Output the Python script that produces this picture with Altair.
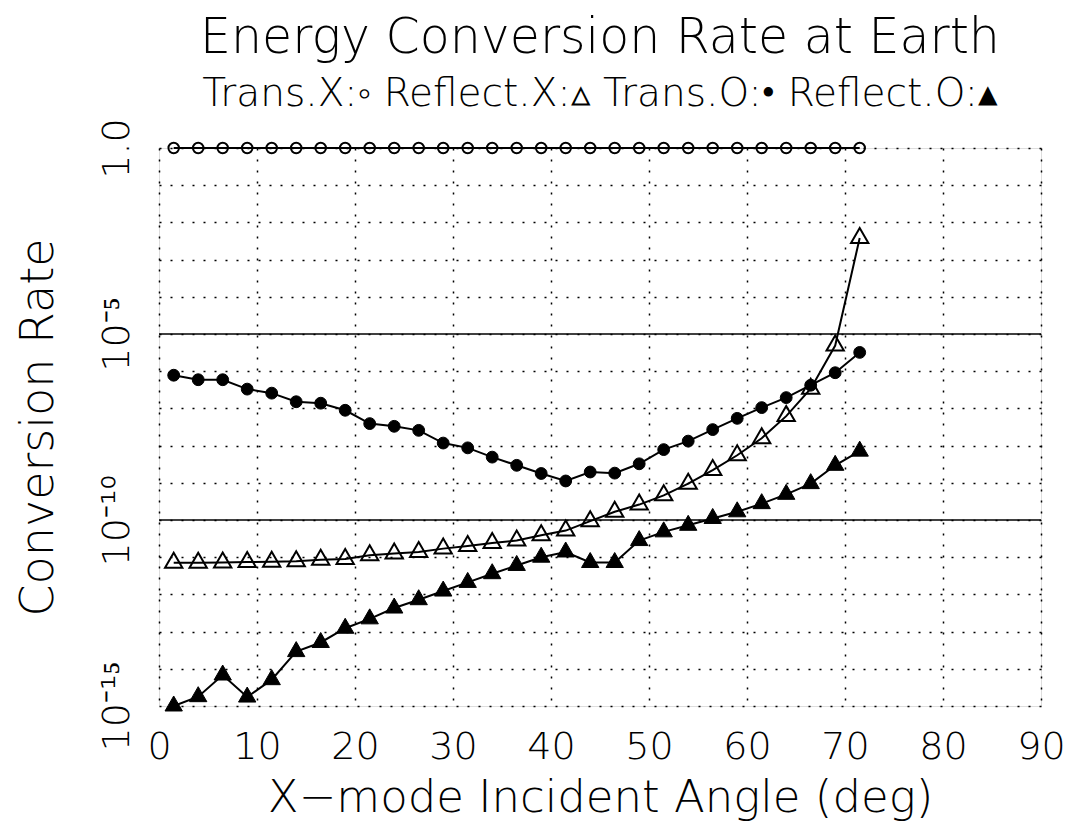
import altair as alt
import pandas as pd

FONT = "DejaVu Sans"

angles = [1.5, 4.0, 6.5, 9.0, 11.5, 14.0, 16.5, 19.0, 21.5, 24.0, 26.5, 29.0, 31.5, 34.0,
          36.5, 39.0, 41.5, 44.0, 46.5, 49.0, 51.5, 54.0, 56.5, 59.0, 61.5, 64.0, 66.5, 69.0, 71.5]

trans_x = [1.0, 1.0, 1.0, 1.0, 1.0, 1.0, 1.0, 1.0, 1.0, 1.0, 1.0, 1.0, 1.0, 1.0, 1.0,
           1.0, 1.0, 1.0, 1.0, 1.0, 1.0, 1.0, 1.0, 1.0, 1.0, 1.0, 1.0, 1.0, 1.0]

reflect_x = [7.1e-12, 7.1e-12, 7.2e-12, 7.4e-12, 7.6e-12, 7.8e-12, 8.5e-12, 8.9e-12, 1.12e-11,
             1.26e-11, 1.38e-11, 1.70e-11, 2.0e-11, 2.4e-11, 2.8e-11, 3.9e-11, 5.2e-11, 9.3e-11,
             1.66e-10, 2.6e-10, 4.6e-10, 9.5e-10, 2.2e-9, 5.5e-9, 1.58e-8, 6.2e-8, 3.4e-7,
             4.9e-6, 3.8e-3]

trans_o = [7.8e-7, 5.9e-7, 5.9e-7, 3.3e-7, 2.57e-7, 1.51e-7, 1.38e-7, 8.9e-8, 3.9e-8, 3.3e-8,
           2.57e-8, 1.17e-8, 8.7e-9, 4.9e-9, 2.95e-9, 1.78e-9, 1.12e-9, 1.95e-9, 1.82e-9,
           3.24e-9, 7.8e-9, 1.32e-8, 2.69e-8, 5.4e-8, 1.05e-7, 1.95e-7, 4.2e-7, 9.1e-7, 3.2e-6]

reflect_o = [1.0e-15, 1.78e-15, 6.8e-15, 1.74e-15, 5.1e-15, 2.9e-14, 5.1e-14, 1.23e-13, 2.2e-13,
             4.3e-13, 7.2e-13, 1.23e-12, 2.1e-12, 3.6e-12, 6.0e-12, 1.0e-11, 1.38e-11, 7.2e-12,
             7.2e-12, 2.8e-11, 4.8e-11, 7.2e-11, 1.10e-10, 1.66e-10, 2.75e-10, 4.9e-10, 9.5e-10,
             2.95e-9, 7.1e-9]

x_ticks = [0, 10, 20, 30, 40, 50, 60, 70, 80, 90]
y_decades = [1.0, 1e-1, 1e-2, 1e-3, 1e-4, 1e-5, 1e-6, 1e-7, 1e-8, 1e-9, 1e-10,
             1e-11, 1e-12, 1e-13, 1e-14, 1e-15]
solid_levels = [1e-5, 1e-10]

title_text = "Energy Conversion Rate at Earth"
subtitle_text = "Trans.X:\u25e6 Reflect.X:\u25b5 Trans.O:\u2022 Reflect.O:\u25b4"
x_title = "X\u2212mode Incident Angle (deg)"
y_title = "Conversion Rate"

TRI = "M0,-1.155L1,0.577L-1,0.577Z"

series = [
    ("Trans.X", trans_x, "circle", False, 110),
    ("Reflect.X", reflect_x, TRI, False, 300),
    ("Trans.O", trans_o, "circle", True, 140),
    ("Reflect.O", reflect_o, TRI, True, 300),
]

xscale = alt.Scale(domain=[0, 90], nice=False, zero=False)
yscale = alt.Scale(type="log", domain=[1e-15, 1.0], nice=False)

xaxis = alt.Axis(values=x_ticks, title=x_title, grid=True, domain=False, ticks=False,
                 tickSize=0, labelFontSize=38, labelFont=FONT, labelFontWeight=200,
                 labelColor="black", labelBaseline="top", labelPadding=22,
                 labelFlush=False, labelOverlap=False,
                 titleFont=FONT, titleFontSize=45, titleFontWeight=200, titleColor="black",
                 titleBaseline="alphabetic", titleX=441, titleY=105, titleAnchor="middle",
                 gridColor="black", gridDash=[2, 9], gridWidth=1.5, gridOpacity=1)

yaxis = alt.Axis(values=y_decades, title=y_title, grid=True, domain=False, ticks=False,
                 tickSize=0, labelFontSize=38, labelFont=FONT, labelFontWeight=200,
                 labelColor="black", labelAngle=270, labelAlign="center",
                 labelBaseline="alphabetic", labelPadding=31,
                 labelExpr="round(log(datum.value)/LN10) == 0 ? '1.0' : "
                           "(round(log(datum.value)/LN10) == -5 ? '10\u207b\u2075' : "
                           "(round(log(datum.value)/LN10) == -10 ? '10\u207b\u00b9\u2070' : "
                           "(round(log(datum.value)/LN10) == -15 ? '10\u207b\u00b9\u2075' : '')))",
                 labelOverlap=False, labelFlush=False,
                 titleFont=FONT, titleFontSize=46, titleFontWeight=200, titleColor="black",
                 titleAngle=270, titleBaseline="alphabetic", titleAlign="center",
                 titleX=-107, titleY=279,
                 gridColor="black", gridDash=[2, 9], gridWidth=1.5, gridOpacity=1)

layers = []

rules_df = pd.DataFrame({"level": solid_levels})
rules = alt.Chart(rules_df).mark_rule(color="black", strokeWidth=1.5).encode(
    y=alt.Y("level:Q", scale=yscale, axis=yaxis)
)
layers.append(rules)

for name, vals, shape, filled, size in series:
    df = pd.DataFrame({"angle": angles, "rate": vals, "series": name})
    base = alt.Chart(df).encode(
        x=alt.X("angle:Q", scale=xscale, axis=xaxis),
        y=alt.Y("rate:Q", scale=yscale, axis=yaxis),
    )
    line = base.mark_line(color="black", strokeWidth=2, clip=False)
    if filled:
        pts = base.mark_point(shape=shape, size=size, filled=True, fill="black",
                              stroke="black", strokeWidth=1, opacity=1, clip=False)
    else:
        pts = base.mark_point(shape=shape, size=size, filled=False, stroke="black",
                              strokeWidth=2, opacity=1, clip=False)
    layers.append(line)
    layers.append(pts)

chart = alt.layer(*layers).properties(
    width=882,
    height=558,
    autosize=alt.AutoSizeParams(type="none"),
    padding={"left": 151, "top": 140, "right": 24, "bottom": 118},
    title=alt.TitleParams(
        text=title_text,
        subtitle=subtitle_text,
        anchor="middle",
        font=FONT, fontSize=49, fontWeight=200, color="black",
        subtitleFont=FONT, subtitleFontSize=39, subtitleFontWeight=200,
        subtitleColor="black", subtitlePadding=12, offset=4,
    ),
).configure_view(
    stroke="black", strokeWidth=2
).configure(background="white")

chart.save("out.html", embed_options={"renderer": "svg", "actions": False})
